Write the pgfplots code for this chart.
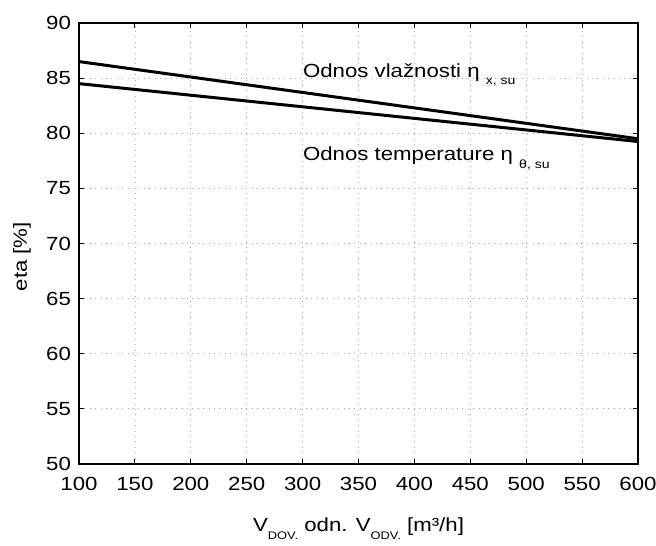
\documentclass[border=0pt]{standalone}
\usepackage{pgfplots}
\pgfplotsset{compat=1.18}
\usepackage{fontspec}
\setmainfont{Liberation Sans}[FakeStretch=1.17]

\newcommand{\sub}[1]{\raisebox{-3.8pt}{\fontsize{6}{7}\selectfont #1}}
\newcommand{\xsub}[1]{\raisebox{-4.2pt}{\fontsize{5.5}{6}\selectfont #1}}

\begin{document}
\begin{tikzpicture}
\begin{axis}[name=ax,
    scale only axis,
    width=279.5pt, height=220.5pt,
    xmin=100, xmax=600,
    ymin=50, ymax=90,
    xtick={100,150,...,600},
    ytick={50,55,...,90},
    tick align=inside,
    major tick length=2.5pt,
    tick style={black, line width=0.5pt},
    axis line style={line width=0.65pt},
    grid=major,
    grid style={gray!70, line width=0.4pt, dash pattern=on 0.5pt off 2.2pt},
    font=\fontsize{9.5}{11}\selectfont,
    /pgf/number format/assume math mode=true,
    /pgf/number format/1000 sep={},
    xticklabel style={yshift=-3pt},
    yticklabel style={xshift=-0.5pt},
    xlabel={V\xsub{DOV.} odn. V\xsub{ODV.} [m³/h]},
    ylabel={eta [\%]},
    xlabel style={at={(axis description cs:0.5,-0.152)}, anchor=base},
    ylabel style={at={(axis description cs:-0.102,0.47)}, anchor=center},
]
\addplot[black, line width=1.5pt] coordinates {(100,86.5) (600,79.5)};
\addplot[black, line width=1.5pt] coordinates {(100,84.5) (600,79.25)};
\node[anchor=base west, inner sep=0pt] at (axis cs:300,85.1) {Odnos vlažnosti η \sub{x, su}};
\node[anchor=base west, inner sep=0pt] at (axis cs:300,77.5) {Odnos temperature η \sub{θ, su}};
\end{axis}
\pgfresetboundingbox
\path[use as bounding box] ([shift={(-39.5pt,-40.5pt)}]ax.south west) rectangle ([shift={(9pt,11.5pt)}]ax.north east);
\end{tikzpicture}
\end{document}
